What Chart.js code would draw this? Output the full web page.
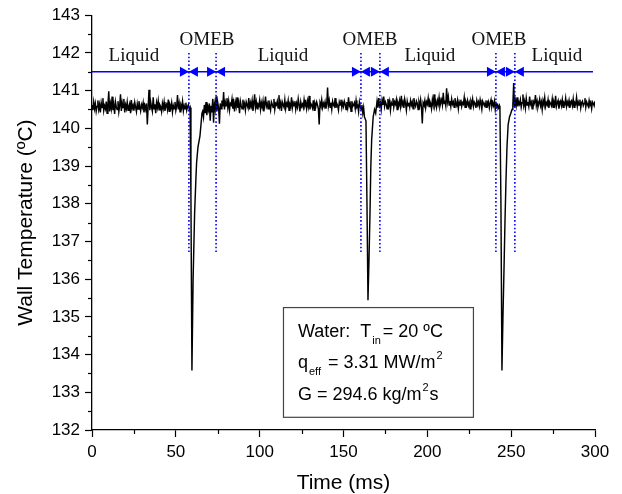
<!DOCTYPE html>
<html><head><meta charset="utf-8">
<script src="https://cdn.jsdelivr.net/npm/chart.js@4.4.0/dist/chart.umd.min.js"></script>
<style>html,body{margin:0;padding:0;background:#fff}canvas{display:block}</style>
</head><body>
<canvas id="c" width="622" height="494"></canvas>
<script>
// ---------- DATA ----------
const SAMPLE_STEP_MS = 0.5;

// baseline segment A: t = 0 .. 58.5 ms
const segAStart = 0;
const segATemps = [
140.62,140.48,140.70,140.52,140.66,140.45,140.58,140.74,140.50,140.63,
140.42,140.68,140.55,140.80,140.47,140.60,140.52,140.71,140.40,140.64,
140.98,140.45,140.66,140.52,140.84,140.48,140.62,140.38,140.70,140.56,
140.50,140.72,140.44,140.60,140.90,140.46,140.68,140.55,140.78,140.42,
140.62,140.52,140.70,140.48,140.58,140.66,140.40,140.75,140.53,140.61,
140.47,140.69,140.56,140.44,140.65,140.51,140.72,140.58,140.46,140.63,
140.55,140.68,140.42,140.60,140.50,140.66,140.10,140.58,141.02,140.48,
140.70,140.56,140.45,140.82,140.52,140.64,140.40,140.68,140.55,140.73,
140.49,140.62,140.57,140.44,140.66,140.53,140.70,140.46,140.59,140.64,
140.50,140.76,140.45,140.62,140.54,140.68,140.43,140.60,140.52,140.70,
140.47,140.58,140.88,140.50,140.66,140.44,140.62,140.55,140.72,140.46,
140.60,140.52,140.68,140.48,140.58,140.63,140.50,140.55];

// first dip (OMEB)
const dip1Times = [59.0, 59.6, 60.3, 61.2, 62.0, 62.4, 63.2, 64.4, 65.0, 65.6];
const dip1Temps = [138.2, 133.58, 136.0, 137.75, 138.7, 139.1, 139.5, 139.8, 140.1, 140.4];

// baseline segment B: t = 66 .. 162.5 ms
const segBStart = 66;
const segBTemps = [
140.45,140.30,140.62,140.40,140.70,140.35,140.58,140.48,140.66,140.20,
140.60,140.42,140.78,140.15,140.64,140.50,140.85,140.45,140.68,140.55,
140.12,140.66,140.52,140.74,140.58,140.96,140.50,140.70,140.60,140.80,
140.55,140.72,140.48,140.66,140.62,140.78,140.52,140.68,140.45,140.70,
140.58,140.82,140.54,140.66,140.40,140.72,140.60,140.52,140.76,140.57,
140.66,140.48,140.70,140.62,140.55,140.80,140.50,140.68,140.58,140.74,
140.46,140.65,140.90,140.55,140.70,140.52,140.64,140.60,140.75,140.50,
140.68,140.56,140.72,140.45,140.62,140.84,140.58,140.66,140.52,140.74,
140.60,140.48,140.70,140.64,140.55,140.78,140.50,140.66,140.62,140.72,
140.54,140.88,140.58,140.68,140.46,140.70,140.62,140.56,140.76,140.52,
140.66,140.60,140.74,140.48,140.64,140.58,140.82,140.54,140.68,140.60,
140.72,140.50,140.66,140.56,140.78,140.62,140.45,140.70,140.58,140.64,
140.55,140.76,140.60,140.68,140.52,140.72,140.58,140.86,140.50,140.66,
140.62,140.54,140.74,140.48,140.66,140.58,140.70,140.62,140.52,140.10,
140.68,140.60,140.76,140.55,140.66,140.58,140.70,140.52,140.64,141.08,
140.60,140.74,140.56,140.68,140.50,140.72,140.62,140.58,140.80,140.54,
140.66,140.60,140.48,140.70,140.62,140.76,140.55,140.68,140.58,140.72,
140.64,140.50,140.70,140.56,140.82,140.60,140.66,140.45,140.72,140.58,
140.62,140.68,140.52,140.74,140.56,140.60,140.44,140.70,140.58,140.50,
140.62,140.40,140.55,140.30];

// second dip
const dip2Times = [163.4, 164.0, 164.6, 165.2, 165.8, 166.3, 166.8, 167.7, 168.5, 169.2];
const dip2Temps = [140.2, 138.0, 135.44, 136.5, 137.75, 139.0, 139.7, 140.3, 140.5, 140.4];

// baseline segment C: t = 170 .. 243 ms
const segCStart = 170;
const segCTemps = [
140.72,140.55,140.80,140.60,140.68,140.50,140.75,140.62,140.84,140.58,
140.70,140.64,140.52,140.78,140.60,140.72,140.48,140.68,140.62,140.80,
140.56,140.70,140.64,140.76,140.50,140.68,140.60,140.74,140.58,140.86,
140.62,140.70,140.54,140.78,140.66,140.48,140.72,140.60,140.68,140.56,
140.74,140.62,140.70,140.52,140.80,140.64,140.58,140.72,140.66,140.50,
140.70,140.60,140.76,140.56,140.13,140.68,140.62,140.74,140.54,140.70,
140.64,140.80,140.58,140.72,140.66,140.52,140.76,140.62,140.90,140.60,
140.70,140.56,140.74,140.64,140.82,140.58,140.68,140.76,140.62,140.94,
140.66,140.74,140.60,141.06,140.70,140.84,140.62,140.72,140.58,140.78,
140.64,140.70,140.56,140.80,140.66,140.60,140.74,140.52,140.70,140.62,
140.76,140.58,140.68,140.64,140.82,140.56,140.70,140.62,140.74,140.60,
140.68,140.52,140.72,140.64,140.78,140.58,140.70,140.66,140.54,140.74,
140.62,140.70,140.58,140.76,140.64,140.50,140.72,140.66,140.60,140.68,
140.56,140.74,140.62,140.70,140.54,140.66,140.76,140.58,140.68,140.60,
140.72,140.50,140.66,140.58,140.62,140.54,140.60];

// third dip
const dip3Times = [243.3, 243.9, 244.5, 245.1, 245.7, 246.3, 246.9, 247.5, 248.2, 249.0, 249.8];
const dip3Temps = [140.5, 138.0, 133.58, 135.0, 136.2, 137.5, 138.6, 139.5, 140.1, 140.3, 140.4];

// baseline segment D: t = 250.5 .. 300 ms
const segDStart = 250.5;
const segDTemps = [
140.50,140.62,141.20,140.55,140.74,140.60,140.82,140.58,140.70,140.64,
140.76,140.56,140.68,140.90,140.60,140.72,140.54,140.80,140.62,140.70,
140.58,140.84,140.64,140.70,140.52,140.76,140.62,140.68,140.88,140.60,
140.72,140.56,140.66,140.78,140.60,140.70,140.50,140.74,140.64,140.82,
140.58,140.68,140.62,140.76,140.54,140.70,140.66,140.60,140.78,140.56,
140.70,140.62,140.86,140.58,140.68,140.74,140.52,140.66,140.72,140.60,
140.76,140.56,140.68,140.64,140.80,140.58,140.70,140.62,140.74,140.54,
140.66,140.72,140.60,140.78,140.56,140.68,140.64,140.82,140.58,140.70,
140.62,140.76,140.54,140.68,140.72,140.60,140.66,140.80,140.56,140.70,
140.64,140.58,140.74,140.62,140.68,140.52,140.70,140.66,140.60,140.72];

// regime boundaries (dotted lines) and annotations
const boundaryTimes = [57.8, 74.0, 160.4, 171.7, 240.9, 252.2];
const boundaryTempTop = 142.0;
const boundaryTempBottom = 136.7;
const arrowLineTemp = 141.5;
const arrowLineEndTime = 298.8;
const regionLabels = ['Liquid', 'OMEB', 'Liquid', 'OMEB', 'Liquid', 'OMEB', 'Liquid'];
const regionLabelTimes = [25, 68.6, 113.9, 165.8, 201.5, 242.7, 277.3];
const regionLabelTemps = [141.91, 142.34, 141.91, 142.34, 141.91, 142.34, 141.91];

// info box
const infoBoxTimes = [113.9, 227.2];
const infoBoxTemps = [135.26, 132.35];
const infoTextTime = 122.8;
const infoLineTemps = [134.47, 133.64, 132.80];
const infoLines = [
  [['Water:  T', 'n'], ['in', 'sub'], ['= 20 ºC', 'n']],
  [['q', 'n'], ['eff', 'sub'], [' = 3.31 MW/m', 'n'], ['2', 'sup']],
  [['G = 294.6 kg/m', 'n'], ['2', 'sup'], ['s', 'n']]
];

// axes
const xMin = 0, xMax = 300, xStep = 50, xMinorStep = 25;
const yMin = 132, yMax = 143, yStep = 1, yMinorStep = 0.5;

// ---------- BUILD ----------
function seg(start, temps) { return temps.map((v, i) => ({x: start + i * SAMPLE_STEP_MS, y: v})); }
function pts(ts, vs) { return ts.map((t, i) => ({x: t, y: vs[i]})); }
const trace = [].concat(
  seg(segAStart, segATemps), pts(dip1Times, dip1Temps),
  seg(segBStart, segBTemps), pts(dip2Times, dip2Temps),
  seg(segCStart, segCTemps), pts(dip3Times, dip3Temps),
  seg(segDStart, segDTemps));

const datasets = [];
boundaryTimes.forEach(t => datasets.push({
  data: [{x: t, y: boundaryTempTop}, {x: t, y: boundaryTempBottom}],
  borderColor: '#0000ff', borderWidth: 1.6, borderDash: [1.6, 2.2], pointRadius: 0, order: 0
}));
datasets.push({
  data: [{x: xMin, y: arrowLineTemp}, {x: arrowLineEndTime, y: arrowLineTemp}],
  borderColor: '#0000ff', borderWidth: 1.7, pointRadius: 0, order: 1
});
datasets.push({
  data: trace, borderColor: '#000', borderWidth: 1.45, pointRadius: 0, tension: 0, order: 2
});

const SANS = "'Liberation Sans', Arial, sans-serif";
const SERIF = "'Liberation Serif', 'Times New Roman', serif";

const annot = {
  id: 'annot',
  afterDatasetsDraw(chart) {
    const {ctx, scales: {x, y}} = chart;
    ctx.save();
    // arrowheads
    const py = y.getPixelForValue(arrowLineTemp);
    ctx.fillStyle = '#0000ff';
    boundaryTimes.forEach(t => {
      const px = x.getPixelForValue(t);
      ctx.beginPath(); ctx.moveTo(px, py); ctx.lineTo(px - 9, py - 5); ctx.lineTo(px - 9, py + 5); ctx.closePath(); ctx.fill();
      ctx.beginPath(); ctx.moveTo(px, py); ctx.lineTo(px + 9, py - 5); ctx.lineTo(px + 9, py + 5); ctx.closePath(); ctx.fill();
    });
    // region labels
    ctx.fillStyle = '#111';
    ctx.font = '19px ' + SERIF;
    ctx.textAlign = 'center'; ctx.textBaseline = 'middle';
    regionLabels.forEach((s, i) => ctx.fillText(s, x.getPixelForValue(regionLabelTimes[i]), y.getPixelForValue(regionLabelTemps[i])));
    // info box
    const bx0 = x.getPixelForValue(infoBoxTimes[0]), bx1 = x.getPixelForValue(infoBoxTimes[1]);
    const by0 = y.getPixelForValue(infoBoxTemps[0]), by1 = y.getPixelForValue(infoBoxTemps[1]);
    ctx.fillStyle = '#fff'; ctx.fillRect(bx0, by0, bx1 - bx0, by1 - by0);
    ctx.strokeStyle = '#444'; ctx.lineWidth = 1.2; ctx.strokeRect(bx0 + 0.5, by0 + 0.5, bx1 - bx0, by1 - by0);
    ctx.fillStyle = '#000'; ctx.textAlign = 'left'; ctx.textBaseline = 'alphabetic';
    infoLines.forEach((runs, li) => {
      let cx = x.getPixelForValue(infoTextTime);
      const base = y.getPixelForValue(infoLineTemps[li]);
      runs.forEach(([txt, kind]) => {
        if (kind === 'n') {
          ctx.font = '18px ' + SANS; ctx.fillText(txt, cx, base); cx += ctx.measureText(txt).width;
        } else if (kind === 'sub') {
          ctx.font = '11px ' + SANS; cx += 1; ctx.fillText(txt, cx, base + 7); cx += ctx.measureText(txt).width + 2;
        } else {
          ctx.font = '11px ' + SANS; cx += 1; ctx.fillText(txt, cx, base - 9); cx += ctx.measureText(txt).width + 1;
        }
      });
    });
    ctx.restore();
  },
  afterDraw(chart) {
    const {ctx, scales: {x, y}} = chart;
    ctx.save();
    ctx.strokeStyle = '#000'; ctx.lineWidth = 1.2;
    for (let v = xMin + xMinorStep; v < xMax; v += xStep) {
      const px = Math.round(x.getPixelForValue(v)) + 0.5;
      ctx.beginPath(); ctx.moveTo(px, x.top); ctx.lineTo(px, x.top + 4); ctx.stroke();
    }
    for (let v = yMin + yMinorStep; v < yMax; v += yStep) {
      const py2 = Math.round(y.getPixelForValue(v)) + 0.5;
      ctx.beginPath(); ctx.moveTo(y.right, py2); ctx.lineTo(y.right - 4, py2); ctx.stroke();
    }
    ctx.restore();
  }
};

new Chart(document.getElementById('c'), {
  type: 'line',
  data: {datasets},
  options: {
    responsive: false, animation: false, devicePixelRatio: 1,
    layout: {padding: {top: 15, right: 27, left: 0, bottom: 0}},
    plugins: {legend: {display: false}, tooltip: {enabled: false}},
    elements: {line: {tension: 0}},
    scales: {
      x: {
        type: 'linear', min: xMin, max: xMax,
        ticks: {stepSize: xStep, color: '#000', font: {family: SANS, size: 17}, padding: 5, maxRotation: 0},
        grid: {drawOnChartArea: false, drawTicks: true, tickLength: 7, tickColor: '#000', tickWidth: 1.2},
        border: {display: true, color: '#000', width: 1.3},
        title: {display: true, text: 'Time (ms)', color: '#000', font: {family: SANS, size: 21, lineHeight: 1.0}, padding: {top: 0, bottom: 0}},
        afterFit(s) { s.height = 64; }
      },
      y: {
        type: 'linear', min: yMin, max: yMax,
        ticks: {stepSize: yStep, color: '#000', font: {family: SANS, size: 17}, padding: 5},
        grid: {drawOnChartArea: false, drawTicks: true, tickLength: 7, tickColor: '#000', tickWidth: 1.2},
        border: {display: true, color: '#000', width: 1.3},
        title: {display: true, text: 'Wall Temperature (ºC)', color: '#000', font: {family: SANS, size: 21, lineHeight: 1.2}, padding: {top: 14, bottom: 0}},
        afterFit(s) { s.width = 92; }
      }
    }
  },
  plugins: [annot]
});
</script>
</body></html>
